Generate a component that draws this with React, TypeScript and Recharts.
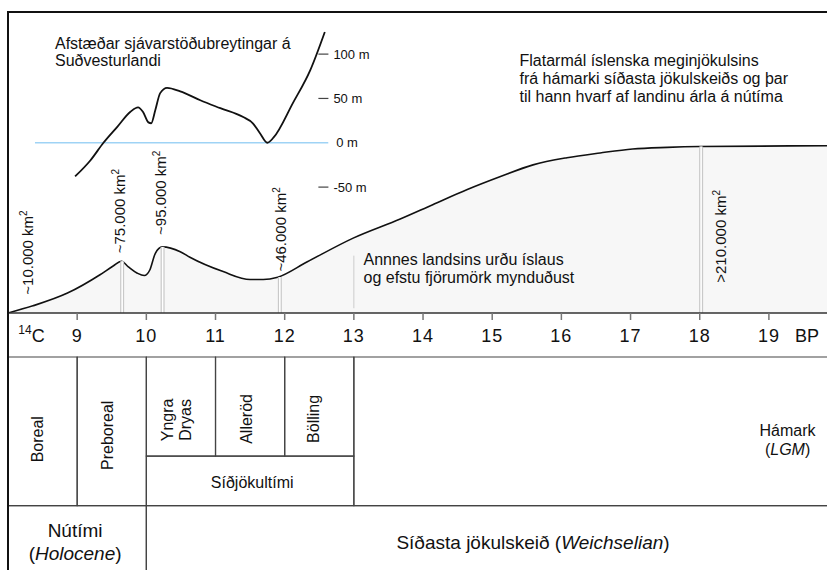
import React from 'react';
import {
  ComposedChart,
  Area,
  Line,
  Scatter,
  XAxis,
  YAxis,
  ReferenceLine,
  ReferenceArea,
} from 'recharts';

const FONT = "'Liberation Sans', Arial, Helvetica, sans-serif";
const INK = '#111';

// glacier area (approx. thousand km2) against 14C ka BP
const glacierArea: [number, number][] = [
  [8.0, 0], [8.36, 9], [8.86, 25], [9.33, 48], [9.52, 59], [9.64, 65], [9.74, 58],
  [9.87, 50], [9.97, 47], [10.05, 54], [10.13, 75], [10.23, 83], [10.49, 77],
  [10.63, 70], [11.11, 52], [11.5, 42], [11.69, 42], [11.9, 45], [12.32, 64],
  [12.99, 94], [13.67, 118], [14.14, 136], [14.64, 155], [15.11, 171], [15.59, 186],
  [16.08, 195], [16.56, 201], [17.03, 206], [17.53, 208], [18.0, 209], [19.84, 210],
];

// relative sea level, SW Iceland (m)
const seaLevel: [number, number][] = [
  [8.97, -38], [9.19, -20], [9.38, 0], [9.58, 18], [9.77, 35], [9.88, 40], [9.95, 35],
  [10.03, 23], [10.07, 22], [10.13, 37], [10.2, 56], [10.3, 62], [10.49, 58],
  [10.78, 48], [11.07, 39], [11.4, 29], [11.54, 22], [11.64, 11], [11.75, 0],
  [11.84, 6], [12.12, 45], [12.37, 82], [12.58, 125],
];

const peakMarks: [number, number][] = [[9.65, 65], [10.235, 83], [11.93, 45], [18.02, 209]];
const noteMark = { t: 13, from: 6, to: 72 };

const areaLabels = [
  { t: 8.28, v: 23, text: '~10.000 km' },
  { t: 9.62, v: 75, text: '~75.000 km' },
  { t: 10.21, v: 98, text: '~95.000 km' },
  { t: 11.95, v: 52, text: '~46.000 km' },
  { t: 18.31, v: 38, text: '>210.000 km' },
];

const timeTicks = [9, 10, 11, 12, 13, 14, 15, 16, 17, 18, 19];
const axisTags = [
  { t: 8.34, text: '14C' },
  { t: 19.55, text: 'BP' },
];

const seaTicks = [100, 50, -50];
const seaZero = { from: 8.39, to: 12.63, label: '0 m' };
const seaDash = { from: 12.487, to: 12.632 };

// stratigraphy table; rows 0-2 chronozones, 2-3 Síðjökultími, 3+ epochs
const tableCells = [
  { x1: 8, x2: 9, y1: 0, y2: 3 },
  { x1: 9, x2: 10, y1: 0, y2: 3 },
  { x1: 10, x2: 11, y1: 0, y2: 2 },
  { x1: 11, x2: 12, y1: 0, y2: 2 },
  { x1: 12, x2: 13, y1: 0, y2: 2 },
  { x1: 10, x2: 13, y1: 2, y2: 3 },
  { x1: 13, x2: 21, y1: 0, y2: 3 },
  { x1: 8, x2: 10, y1: 3, y2: 5 },
  { x1: 10, x2: 21, y1: 3, y2: 5 },
];

const verticalLabels = [
  { t: 8.43, r: 1.66, lines: ['Boreal'] },
  { t: 9.43, r: 1.58, lines: ['Preboreal'] },
  { t: 10.43, r: 1.27, lines: ['Yngra', 'Dryas'] },
  { t: 11.45, r: 1.25, lines: ['Alleröd'] },
  { t: 12.42, r: 1.25, lines: ['Bölling'] },
];
const flatLabels = [
  { t: 11.53, r: 2.53, lines: ['Síðjökultími'] },
  { t: 19.27, r: 1.67, lines: ['Hámark', '(_LGM_)'] },
];
const epochLabels = [
  { t: 8.97, r: 3.73, lines: ['Nútími', '(_Holocene_)'] },
  { t: 15.59, r: 3.74, lines: ['Síðasta jökulskeið (_Weichselian_)'] },
];

const titleLines = ['Afstæðar sjávarstöðubreytingar á', 'Suðvesturlandi'];
const descLines = [
  'Flatarmál íslenska meginjökulsins',
  'frá hámarki síðasta jökulskeiðs og þar',
  'til hann hvarf af landinu árla á nútíma',
];
const noteLines = ['Annnes landsins urðu íslaus', 'og efstu fjörumörk mynduðust'];

const areaData = glacierArea.map(([t, v]) => ({ t, v }));
const seaData = seaLevel.map(([t, s]) => ({ t, s }));
const tickValues = [axisTags[0].t, ...timeTicks, axisTags[1].t];

function withItalics(line: string) {
  return line.split('_').map((part, i) =>
    i % 2 === 1 ? (
      <tspan key={i} fontStyle="italic">{part}</tspan>
    ) : (
      <tspan key={i}>{part}</tspan>
    )
  );
}

function BlockText(props: any, size: number, lh: number, rotate: boolean) {
  const { cx, cy, payload } = props;
  if (cx == null || cy == null) return <g />;
  const lines: string[] = payload.lines;
  const n = lines.length;
  return (
    <text
      transform={rotate ? `rotate(-90 ${cx} ${cy})` : undefined}
      textAnchor="middle"
      fontSize={size}
      fill={INK}
    >
      {lines.map((ln, i) => (
        <tspan key={i} x={cx} y={cy + (i - (n - 1) / 2) * lh} dy="0.35em">
          {withItalics(ln)}
        </tspan>
      ))}
    </text>
  );
}

function AreaLabel(props: any) {
  const { cx, cy, payload } = props;
  if (cx == null || cy == null) return <g />;
  return (
    <text transform={`rotate(-90 ${cx} ${cy})`} x={cx} y={cy} dy="0.35em" fontSize={15} fill={INK}>
      {payload.text}
      <tspan fontSize={10} dy={-6}>2</tspan>
    </text>
  );
}

function TimeTick(props: any) {
  const { x, y, payload } = props;
  const tag = axisTags.find((a) => Math.abs(a.t - payload.value) < 1e-6);
  if (tag) {
    if (tag.text === '14C') {
      return (
        <text x={x} y={y + 29} textAnchor="middle" fill={INK}>
          <tspan fontSize={12} dy={-8}>14</tspan>
          <tspan fontSize={18} dy={8}>C</tspan>
        </text>
      );
    }
    return (
      <text x={x} y={y + 29} textAnchor="middle" fontSize={18} fill={INK}>
        {tag.text}
      </text>
    );
  }
  return (
    <g>
      <line x1={x} x2={x} y1={y} y2={y + 7} stroke="#777" strokeWidth={1.5} />
      <text x={x} y={y + 29} textAnchor="middle" fontSize={18} letterSpacing={1} fill={INK}>
        {payload.value}
      </text>
    </g>
  );
}

function TextBlock({ lines, left, top, lh }: { lines: string[]; left: number; top: number; lh: number }) {
  return (
    <div
      style={{
        position: 'absolute',
        left,
        top,
        fontSize: 16,
        lineHeight: `${lh}px`,
        color: INK,
        whiteSpace: 'nowrap',
      }}
    >
      {lines.map((l, i) => (
        <div key={i}>{l}</div>
      ))}
    </div>
  );
}

export default function App() {
  return (
    <div
      style={{
        position: 'absolute',
        left: 0,
        top: 0,
        width: 827,
        height: 570,
        overflow: 'hidden',
        background: '#fff',
        fontFamily: FONT,
      }}
    >
      <div style={{ position: 'absolute', left: 0, top: 0 }}>
        <ComposedChart width={827} height={357} margin={{ top: 12, right: 0, bottom: 0, left: 8 }}>
          <XAxis
            dataKey="t"
            type="number"
            domain={[8, 19.84]}
            allowDataOverflow
            ticks={tickValues}
            interval={0}
            tickSize={0}
            tickMargin={0}
            tickLine={false}
            axisLine={{ stroke: '#333', strokeWidth: 1.5 }}
            height={44}
            tick={<TimeTick />}
          />
          <YAxis yAxisId="area" hide type="number" domain={[0, 378]} allowDataOverflow />
          <YAxis yAxisId="sea" hide type="number" domain={[-192, 147.5]} allowDataOverflow />

          <Area
            yAxisId="area"
            data={areaData}
            dataKey="v"
            type="monotone"
            stroke={INK}
            strokeWidth={1.6}
            fill="#f7f7f7"
            fillOpacity={1}
            baseValue={0}
            isAnimationActive={false}
          />

          {peakMarks.map(([t, top]) => (
            <ReferenceLine
              key={`pw${t}`}
              yAxisId="area"
              segment={[{ x: t, y: 0 }, { x: t, y: top }]}
              stroke="#c9c9c9"
              strokeWidth={4}
            />
          ))}
          {peakMarks.map(([t, top]) => (
            <ReferenceLine
              key={`pn${t}`}
              yAxisId="area"
              segment={[{ x: t, y: 0 }, { x: t, y: top }]}
              stroke="#ffffff"
              strokeWidth={1.6}
            />
          ))}
          <ReferenceLine
            yAxisId="area"
            segment={[{ x: noteMark.t, y: noteMark.from }, { x: noteMark.t, y: noteMark.to }]}
            stroke="#cccccc"
            strokeWidth={1}
          />

          <ReferenceLine
            yAxisId="sea"
            segment={[{ x: seaZero.from, y: 0 }, { x: seaZero.to, y: 0 }]}
            stroke="#9fd3f5"
            strokeWidth={1.4}
            label={{ value: seaZero.label, position: 'right', offset: 8, fontSize: 13, fill: INK }}
          />
          {seaTicks.map((v) => (
            <ReferenceLine
              key={`s${v}`}
              yAxisId="sea"
              segment={[{ x: seaDash.from, y: v }, { x: seaDash.to, y: v }]}
              stroke="#444"
              strokeWidth={1.2}
              label={{ value: `${v} m`, position: 'right', offset: 5, fontSize: 13, fill: INK }}
            />
          ))}

          <Line
            yAxisId="sea"
            data={seaData}
            dataKey="s"
            type="monotone"
            stroke={INK}
            strokeWidth={1.8}
            dot={false}
            isAnimationActive={false}
          />

          <Scatter
            yAxisId="area"
            data={areaLabels}
            dataKey="v"
            shape={(p: any) => <AreaLabel {...p} />}
            isAnimationActive={false}
          />
        </ComposedChart>
      </div>

      <div style={{ position: 'absolute', left: 0, top: 356 }}>
        <ComposedChart width={827} height={214} margin={{ top: 1, right: 0, bottom: 0, left: 8 }}>
          <XAxis dataKey="t" type="number" domain={[8, 19.84]} allowDataOverflow hide />
          <YAxis type="number" domain={[0, 4.3]} reversed allowDataOverflow hide />
          {tableCells.map((c, i) => (
            <ReferenceArea
              key={i}
              x1={c.x1}
              x2={c.x2}
              y1={c.y1}
              y2={c.y2}
              ifOverflow="visible"
              stroke="#444"
              strokeWidth={1.2}
              fill="none"
              fillOpacity={0}
            />
          ))}
          <Scatter
            data={verticalLabels}
            dataKey="r"
            shape={(p: any) => BlockText(p, 16, 18, true)}
            isAnimationActive={false}
          />
          <Scatter
            data={flatLabels}
            dataKey="r"
            shape={(p: any) => BlockText(p, 16, 19, false)}
            isAnimationActive={false}
          />
          <Scatter
            data={epochLabels}
            dataKey="r"
            shape={(p: any) => BlockText(p, 19, 23, false)}
            isAnimationActive={false}
          />
        </ComposedChart>
      </div>

      <TextBlock lines={titleLines} left={55} top={36} lh={16.7} />
      <TextBlock lines={descLines} left={519.5} top={52.3} lh={18} />
      <TextBlock lines={noteLines} left={363.5} top={250.5} lh={18} />

      <div
        style={{
          position: 'absolute',
          left: 7,
          top: 11,
          width: 840,
          height: 600,
          borderLeft: `2px solid ${INK}`,
          borderTop: `2px solid ${INK}`,
          pointerEvents: 'none',
        }}
      />
    </div>
  );
}
